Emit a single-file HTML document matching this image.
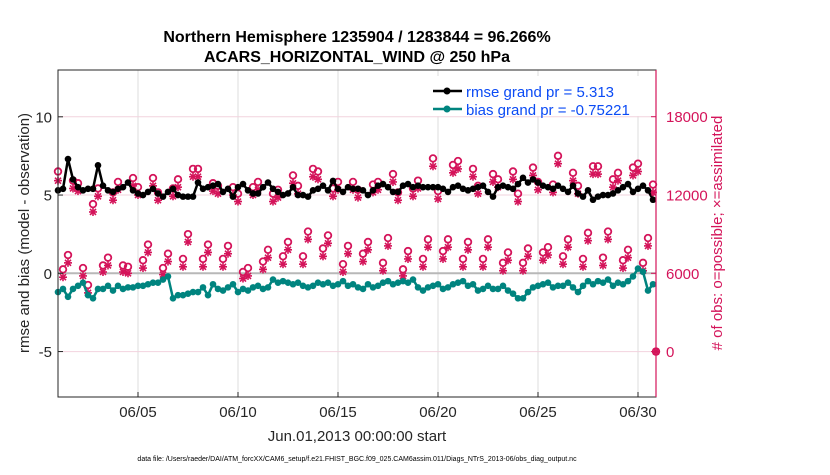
<!DOCTYPE html>
<html><head><meta charset="utf-8">
<style>
html,body{margin:0;padding:0;background:#fff;}
svg text{font-family:"Liberation Sans",Arial,sans-serif;}
</style></head>
<body>
<svg id="chart" width="830" height="470" viewBox="0 0 830 470" xmlns="http://www.w3.org/2000/svg">
  <rect width="830" height="470" fill="#fff"/>
  <g id="grid"></g>
  <g id="marks"></g>
  <rect x="58" y="70" width="598" height="327" fill="none" stroke="#262626" stroke-width="1"/>
  <line x1="656" y1="70" x2="656" y2="397" stroke="#d4145a" stroke-width="1.2"/>
  <g id="axes"></g>
  <text x="357" y="42" text-anchor="middle" font-size="16" font-weight="bold" fill="#000">Northern Hemisphere 1235904 / 1283844 = 96.266%</text>
  <text x="357" y="62" text-anchor="middle" font-size="16" font-weight="bold" fill="#000">ACARS_HORIZONTAL_WIND @ 250 hPa</text>
  <text transform="translate(29,233) rotate(-90)" text-anchor="middle" font-size="15" fill="#262626">rmse and bias (model - observation)</text>
  <text transform="translate(722,233) rotate(-90)" text-anchor="middle" font-size="15" fill="#d4145a"># of obs: o=possible; ×=assimilated</text>
  <text x="357" y="441" text-anchor="middle" font-size="15" fill="#262626">Jun.01,2013 00:00:00 start</text>
  <text x="357" y="461" text-anchor="middle" font-size="7" fill="#000">data file: /Users/raeder/DAI/ATM_forcXX/CAM6_setup/f.e21.FHIST_BGC.f09_025.CAM6assim.011/Diags_NTrS_2013-06/obs_diag_output.nc</text>
  <g>
    <rect x="428" y="76" width="214" height="40" fill="#fff"/>
    <line x1="433" y1="91" x2="462" y2="91" stroke="#000" stroke-width="2.5"/>
    <circle cx="447" cy="91" r="3.5" fill="#000"/>
    <text x="466" y="97" font-size="15" fill="#0b4bf5">rmse grand pr = 5.313</text>
    <line x1="433" y1="109" x2="462" y2="109" stroke="#00847f" stroke-width="2.5"/>
    <circle cx="447" cy="109" r="3.5" fill="#00847f"/>
    <text x="466" y="115" font-size="15" fill="#0b4bf5">bias grand pr = -0.75221</text>
  </g>
</svg>
<script>
const rmseValues = [5.3,5.4,7.3,6.0,5.5,5.3,5.4,5.4,6.9,5.6,5.3,5.2,5.4,5.5,5.8,5.3,5.1,5.0,5.2,5.4,
5.1,4.9,5.2,5.4,5.0,4.9,4.9,4.9,5.8,5.4,5.5,5.6,5.7,5.2,5.4,4.9,5.5,5.7,5.3,5.1,
5.1,5.5,5.8,5.4,5.2,5.0,5.1,5.5,5.0,5.0,4.9,5.3,5.4,5.6,5.3,5.9,5.4,5.2,5.5,5.4,
5.4,5.3,5.0,5.3,5.6,5.7,5.5,5.2,5.2,5.6,5.7,5.5,5.6,5.5,5.5,5.5,5.5,5.4,5.2,5.5,
5.6,5.4,5.3,5.4,5.5,5.6,5.2,4.9,5.5,5.6,5.5,5.4,5.7,6.1,5.8,6.0,5.8,5.6,5.5,5.4,
5.6,5.4,5.2,5.6,5.1,4.9,5.3,4.7,4.9,5.0,5.0,5.1,5.3,5.5,5.7,5.2,5.4,5.6,5.3,4.7];
const biasValues = [-1.2,-1.0,-1.5,-1.0,-0.8,-0.6,-1.4,-1.6,-1.0,-1.0,-0.8,-1.1,-0.8,-1.0,-0.9,-0.9,-0.8,-0.8,-0.7,-0.6,
-0.6,-0.4,-0.2,-1.6,-1.4,-1.4,-1.3,-1.2,-1.2,-0.9,-1.4,-0.7,-1.0,-1.1,-0.9,-0.7,-1.2,-1.0,-1.1,-0.9,
-0.8,-1.0,-0.9,-0.4,-0.6,-0.5,-0.6,-0.7,-0.6,-0.8,-0.9,-0.8,-0.6,-0.7,-0.6,-0.8,-0.7,-0.5,-0.8,-0.7,
-0.9,-1.0,-0.7,-0.9,-0.8,-0.6,-0.5,-0.7,-0.6,-0.5,-0.6,-0.4,-0.9,-1.1,-0.9,-0.8,-0.7,-1.0,-0.9,-0.7,
-0.6,-0.5,-0.8,-0.7,-1.1,-1.0,-0.8,-1.0,-1.0,-0.8,-1.1,-1.3,-1.6,-1.6,-1.2,-0.9,-0.8,-0.7,-0.6,-0.9,
-0.8,-0.8,-0.6,-0.9,-1.2,-0.8,-0.5,-0.7,-0.5,-0.6,-0.4,-0.8,-0.6,-0.7,-0.5,-0.2,0.3,0.1,-1.1,-0.7];
const possibleCounts = [13800,6300,7400,13100,12900,6400,5100,11300,12500,6600,7200,12200,13000,6600,6500,13300,
12600,7000,8200,13300,12200,6400,7500,12500,13200,7100,9000,14000,14000,7100,8200,12900,12700,7100,8100,12600,
12100,6100,6400,12600,13000,6900,7800,12100,12400,7300,8400,13500,12700,7300,9200,14000,13800,7900,8900,12500,
13000,6700,8100,13000,12400,7500,8400,12800,13000,6800,8700,13600,12200,6300,7700,12500,13100,7100,8600,14800,
12300,7700,8600,14300,14600,7100,8400,14000,12700,7100,8600,13600,13200,6800,7600,13800,12100,6800,7900,14100,
13000,7600,8000,12800,15000,7300,8600,13700,12700,7100,9100,14200,14200,7200,9200,13200,13700,7000,7800,14100,
14400,6800,8700,12800];
const assimilatedCounts = [13100,5700,6800,12500,12300,5800,4500,10700,11900,6100,6600,11600,12400,6100,6000,12700,
12000,6400,7600,12700,11600,5900,6900,11900,12600,6500,8400,13400,13400,6500,7600,12300,12100,6500,7500,12000,
11500,5600,5800,12000,12400,6300,7200,11500,11800,6700,7800,12900,12100,6700,8600,13400,13200,7300,8300,11900,
12400,6100,7500,12400,11800,6900,7800,12200,12400,6200,8100,13000,11600,5800,7100,11900,12500,6500,8000,14200,
11700,7100,8000,13700,14000,6500,7800,13400,12100,6500,8000,13000,12600,6200,7000,13200,11500,6200,7300,13500,
12400,7000,7400,12200,14400,6700,8000,13100,12100,6500,8500,13600,13600,6600,8600,12600,13100,6400,7200,13500,
13800,6200,8100,12200];
const leftTicks = [10,5,0,-5];
const rightTicks = [18000,12000,6000,0];
const dayTicks = [4,9,14,19,24,29];
const dayTickLabels = ["06/05","06/10","06/15","06/20","06/25","06/30"];
const stepDays = 0.25;

const NS='http://www.w3.org/2000/svg';
const X0=58, X1=656, Y0=70, Y1=397;
function xDay(d){return X0 + d*20;}
function yVal(v){return 273.3 - v*15.65;}
function yCount(c){return 351.6 - c*78.3/6000;}
function mk(tag,attrs,parent){const e=document.createElementNS(NS,tag);for(const k in attrs)e.setAttribute(k,attrs[k]);parent.appendChild(e);return e;}

const grid=document.getElementById('grid'), marks=document.getElementById('marks'), axes=document.getElementById('axes');

dayTicks.forEach((d,i)=>{
  const x=xDay(d);
  const gl=mk('line',{x1:x,y1:Y0,x2:x,y2:Y1,stroke:'#dcdcdc','stroke-width':1},grid);
  
  
  const t=mk('text',{x:x,y:417,'text-anchor':'middle','font-size':15,fill:'#262626'},axes);
  t.textContent=dayTickLabels[i];
  
  
  const tk=mk('line',{x1:x,y1:Y1,x2:x,y2:Y1-5,stroke:'#262626'},axes);
  
  
});
rightTicks.forEach(c=>{
  const y=yCount(c);
  const gl=mk('line',{x1:X0,y1:y,x2:X1,y2:y,stroke:'#f2d3de','stroke-width':1},grid);
  
  
  const t=mk('text',{x:666,y:y+5.5,'font-size':15,fill:'#d4145a'},axes);
  t.textContent=c;
  
  
  const tk=mk('line',{x1:X1,y1:y,x2:X1-5,y2:y,stroke:'#d4145a'},axes);
  
  
});
leftTicks.forEach(v=>{
  const y=yVal(v);
  const t=mk('text',{x:52,y:y+5.5,'text-anchor':'end','font-size':15,fill:'#262626'},axes);
  t.textContent=v;
  
  
  const tk=mk('line',{x1:X0,y1:y,x2:X0+5,y2:y,stroke:'#262626'},axes);
  
  
});
const zl=mk('line',{x1:X0,y1:yVal(0),x2:X1,y2:yVal(0),stroke:'#b8b8b8','stroke-width':2},grid);



function star(x,y){
  const g=mk('g',{stroke:'#d4145a','stroke-width':1.6},marks);
  
  
  const r=4;
  mk('line',{x1:x-r,y1:y,x2:x+r,y2:y},g);
  mk('line',{x1:x,y1:y-r,x2:x,y2:y+r},g);
  mk('line',{x1:x-3,y1:y-3,x2:x+3,y2:y+3},g);
  mk('line',{x1:x-3,y1:y+3,x2:x+3,y2:y-3},g);
}
possibleCounts.forEach((c,i)=>{
  const x=xDay(i*stepDays);
  const ci=mk('circle',{cx:x,cy:yCount(c),r:3.3,fill:'none',stroke:'#d4145a','stroke-width':1.8},marks);
  
  
});
assimilatedCounts.forEach((c,i)=>star(xDay(i*stepDays),yCount(c)));
const ez=mk('circle',{cx:X1,cy:yCount(0),r:3.3,fill:'none',stroke:'#d4145a','stroke-width':1.8},marks);


star(X1,yCount(0));

function series(vals,color,name){
  const pts=vals.map((v,i)=>xDay(i*stepDays).toFixed(1)+','+yVal(v).toFixed(1)).join(' ');
  const pl=mk('polyline',{points:pts,fill:'none',stroke:color,'stroke-width':2.5,'stroke-linejoin':'round'},marks);
  
  
  vals.forEach((v,i)=>{
    const c=mk('circle',{cx:xDay(i*stepDays),cy:yVal(v),r:3.3,fill:color},marks);
    
    
  });
}
series(biasValues,'#00847f','bias');
series(rmseValues,'#000000','rmse');
</script>
</body></html>
